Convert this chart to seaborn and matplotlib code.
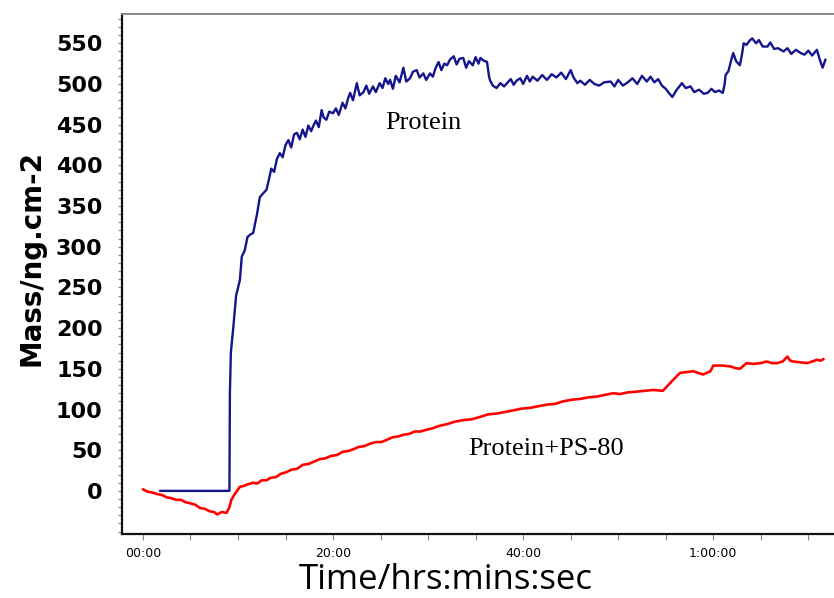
import numpy as np
import pandas as pd
import seaborn as sns
import matplotlib.pyplot as plt
from matplotlib.ticker import MultipleLocator


# Protein (no surfactant): time in minutes, mass in ng/cm2
protein_time = [1.8, 9.1, 9.15, 9.25, 9.5, 9.8, 10.2, 10.4, 10.7, 11.0, 11.3, 11.6,
                12.0, 12.3, 12.6, 13.0, 13.3, 13.5, 13.8, 14.1, 14.4, 14.7, 15.0, 15.3,
                15.6, 15.9, 16.2, 16.5, 16.8, 17.1, 17.4, 17.7, 17.9, 18.2, 18.5, 18.8,
                19.0, 19.3, 19.6, 20.0, 20.3, 20.6, 21.0, 21.3, 21.6, 21.8, 22.1, 22.5,
                22.8, 23.2, 23.5, 23.8, 24.2, 24.5, 24.9, 25.2, 25.5, 25.8, 26.0, 26.3,
                26.6, 27.0, 27.4, 27.7, 28.1, 28.4, 28.8, 29.1, 29.5, 29.8, 30.2, 30.5,
                30.8, 31.1, 31.4, 31.7, 32.0, 32.3, 32.7, 33.0, 33.3, 33.7, 34.0, 34.3,
                34.7, 35.0, 35.3, 35.5, 35.8, 36.2, 36.4, 36.5, 36.8, 37.2, 37.6, 38.0,
                38.3, 38.7, 39.0, 39.3, 39.7, 40.0, 40.4, 40.7, 41.0, 41.5, 42.0, 42.5,
                43.0, 43.5, 44.0, 44.5, 45.0, 45.3, 45.7, 46.0, 46.5, 47.0, 47.5, 48.0,
                48.5, 49.2, 49.6, 50.0, 50.5, 51.0, 51.5, 52.0, 52.5, 53.0, 53.4, 53.8,
                54.2, 54.6, 55.0, 55.4, 55.7, 56.1, 56.7, 57.1, 57.6, 58.0, 58.5, 59.0,
                59.4, 59.8, 60.2, 60.6, 61.0, 61.2, 61.3, 61.6, 61.9, 62.1, 62.4, 62.8,
                63.0, 63.2, 63.5, 63.8, 64.1, 64.5, 64.8, 65.2, 65.7, 66.0, 66.4, 66.8,
                67.4, 67.8, 68.2, 68.7, 69.2, 69.6, 70.0, 70.4, 70.9, 71.2, 71.5, 71.8]
protein_mass = [0, 0, 120, 170, 200, 240, 259, 288, 295, 312, 315, 317,
                340, 361, 365, 370, 385, 396, 392, 408, 415, 410, 425, 431,
                422, 438, 440, 432, 444, 435, 449, 442, 448, 455, 447, 468,
                459, 456, 466, 464, 470, 462, 477, 470, 483, 489, 480, 501,
                486, 490, 498, 488, 497, 490, 501, 495, 507, 500, 505, 494,
                510, 502, 520, 503, 507, 515, 517, 508, 513, 505, 513, 509,
                520, 527, 517, 525, 523, 530, 534, 524, 531, 532, 520, 528,
                523, 533, 525, 532, 529, 527, 510, 505, 498, 495, 501, 497,
                501, 506, 499, 504, 507, 500, 510, 503, 509, 504, 511, 505,
                512, 508, 514, 506, 517, 508, 501, 504, 499, 505, 500, 498,
                502, 503, 497, 505, 498, 502, 507, 500, 510, 503, 509, 502,
                506, 498, 494, 488, 484, 492, 501, 495, 497, 490, 493, 488,
                489, 494, 490, 492, 489, 500, 511, 516, 530, 538, 528, 523,
                535, 550, 548, 553, 556, 550, 554, 546, 546, 551, 543, 544,
                540, 544, 537, 542, 538, 536, 541, 535, 542, 530, 520, 530]

# Protein + PS-80
ps80_time = [0.0, 0.5, 1.0, 1.5, 2.0, 2.5, 3.0, 3.5, 4.0, 4.5, 4.9, 5.5, 6.0, 6.5,
             7.0, 7.5, 7.8, 8.3, 8.8, 9.1, 9.3, 9.6, 9.9, 10.2, 10.6, 11.0, 11.6,
             12.0, 12.5, 13.0, 13.4, 14.0, 14.5, 15.1, 15.6, 16.2, 16.8, 17.4, 18.0,
             18.6, 19.2, 19.8, 20.4, 21.0, 21.6, 22.1, 22.7, 23.3, 23.9, 24.5, 25.1,
             25.7, 26.3, 26.9, 27.4, 28.0, 28.6, 29.2, 29.8, 30.5, 31.2, 32.0, 32.8,
             33.7, 34.6, 35.5, 36.3, 37.2, 38.1, 39.0, 39.8, 40.7, 41.6, 42.5, 43.4,
             44.2, 45.1, 46.0, 46.9, 47.8, 48.6, 49.5, 50.2, 51.0, 52.0, 52.8, 53.7,
             54.7, 55.1, 55.5, 56.0, 56.5, 57.2, 57.9, 58.4, 58.9, 59.3, 59.7, 60.0,
             60.9, 61.8, 62.3, 62.8, 63.5, 64.2, 65.0, 65.6, 66.2, 66.7, 67.3, 67.8,
             68.1, 68.4, 69.1, 69.9, 70.4, 70.9, 71.3, 71.6]
ps80_mass = [2, -1, -2, -4, -5, -8, -9, -11, -11, -14, -15, -17, -21, -22,
             -25, -26, -29, -26, -27, -20, -11, -5, 0, 5, 6, 8, 10,
             9, 13, 13, 16, 17, 21, 23, 26, 27, 32, 33, 36,
             39, 40, 43, 44, 48, 49, 51, 54, 55, 58, 60, 60,
             63, 66, 67, 69, 70, 73, 73, 75, 77, 80, 82, 85,
             87, 88, 91, 94, 95, 97, 99, 101, 102, 104, 106, 107,
             110, 112, 113, 115, 116, 118, 120, 119, 121, 122, 123, 124,
             123, 128, 133, 139, 145, 146, 147, 145, 143, 145, 147, 154,
             154, 153, 151, 150, 157, 156, 157, 159, 157, 157, 159, 165,
             160, 159, 158, 157, 159, 161, 160, 162]

x_ticks = [0, 20, 40, 60]
x_tick_labels = ['00:00', '20:00', '40:00', '1:00:00']
y_ticks = [0, 50, 100, 150, 200, 250, 300, 350, 400, 450, 500, 550]

protein = pd.DataFrame({'time': protein_time, 'mass': protein_mass})
ps80 = pd.DataFrame({'time': ps80_time, 'mass': ps80_mass})

sns.set_style('white')
plt.rcParams['text.color'] = 'black'
plt.rcParams['axes.labelcolor'] = 'black'
plt.rcParams['xtick.labelcolor'] = 'black'
plt.rcParams['ytick.labelcolor'] = 'black'

fig = plt.figure(figsize=(8.34, 5.98), dpi=100)
ax = fig.add_axes([0.1463, 0.107, 0.8537, 0.8696])

sns.lineplot(data=protein, x='time', y='mass', ax=ax, color='#14148c',
             linewidth=1.7, estimator=None, sort=False)
sns.lineplot(data=ps80, x='time', y='mass', ax=ax, color='#ff0000',
             linewidth=1.9, estimator=None, sort=False)

ax.set_xlim(-2.2, 72.7)
ax.set_ylim(-53, 586)

ax.set_xticks(x_ticks)
ax.set_xticklabels(x_tick_labels, fontsize=9)
ax.xaxis.set_minor_locator(MultipleLocator(5))
ax.set_yticks(y_ticks)
ax.set_yticklabels([str(v) for v in y_ticks], fontsize=16, fontweight='bold')
ax.yaxis.set_minor_locator(MultipleLocator(10))

ax.tick_params(axis='x', which='both', direction='out', length=4, width=0.8,
               color='#888888', pad=5, bottom=True, labelcolor='black')
ax.tick_params(axis='y', which='both', direction='out', length=3, width=0.8,
               color='#888888', pad=11, left=True, labelcolor='black')

for side in ['left', 'bottom']:
    ax.spines[side].set_color('#111111')
    ax.spines[side].set_linewidth(1.6)
ax.spines['top'].set_color('#888888')
ax.spines['top'].set_linewidth(1.4)
ax.spines['right'].set_visible(False)

ax.set_ylabel('Mass/ng.cm-2', fontsize=20, fontweight='bold', color='black')
ax.yaxis.set_label_coords(-0.108, 0.53)
ax.set_xlabel('Time/hrs:mins:sec', fontsize=25, family='Open Sans', color='black')
ax.xaxis.set_label_coords(0.454, -0.055)

ax.text(29.5, 452, 'Protein', fontsize=19, family='Liberation Serif',
        ha='center', va='center', color='black')
ax.text(42.4, 52, 'Protein+PS-80', fontsize=19, family='Liberation Serif',
        ha='center', va='center', color='black')

fig.savefig('out.png', dpi=100)
